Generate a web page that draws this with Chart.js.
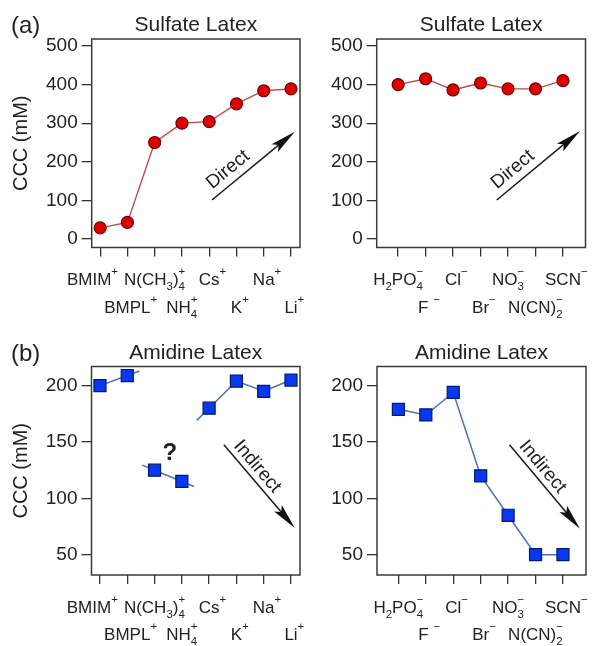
<!DOCTYPE html>
<html>
<head>
<meta charset="utf-8">
<script src="https://cdn.jsdelivr.net/npm/chart.js@4.4.1/dist/chart.umd.min.js"></script>
<style>
  body { margin: 0; background: #fff; }
  #wrap { position: relative; width: 598px; height: 646px; }
  #wrap canvas { position: absolute; left: 0; top: 0; }
</style>
</head>
<body>
<div id="wrap">
  <canvas id="c1" width="598" height="646"></canvas>
  <canvas id="c2" width="598" height="646"></canvas>
  <canvas id="c3" width="598" height="646"></canvas>
  <canvas id="c4" width="598" height="646"></canvas>
</div>
<script>
// categories (_x = subscript, ^x = superscript)
const cationLabels = ["BMIM^+", "BMPL^+", "N(CH_3)_4^+", "NH_4^+", "Cs^+", "K^+", "Na^+", "Li^+"];
const anionLabels = ["H_2PO_4^−", "F ^−", "Cl^−", "Br^−", "NO_3^−", "N(CN)_2^−", "SCN^−"];

// CCC values (mM)
const sulfateCation = [29, 43, 250, 300, 304, 350, 384, 389];
const sulfateAnion = [400, 415, 386, 404, 389, 389, 410];
const amidineCation = [200, 209, 125, 115, 180, 204, 195, 205];
const amidineAnion = [179, 174, 194, 120, 85, 50, 50];

// line is broken after these indices
const amidineCationBreaks = [1, 3];

const sulfateTicks = [0, 100, 200, 300, 400, 500];
const amidineTicks = [50, 100, 150, 200];

const FONT = '"Liberation Sans", Arial, Helvetica, sans-serif';
const INK = "#222";

// split "N(CH_3)_4^+" into normal / sub / sup pieces
function richParts(s) {
  const parts = [];
  for (let i = 0; i < s.length; i++) {
    const c = s[i];
    if (c === "_" || c === "^") {
      parts.push({ t: s[i + 1], k: c === "_" ? "sub" : "sup" });
      i++;
    } else {
      const last = parts[parts.length - 1];
      if (last && last.k === "n") last.t += c;
      else parts.push({ t: c, k: "n" });
    }
  }
  return parts;
}

function drawRich(ctx, s, cx, by) {
  const parts = richParts(s);
  const base = "17px " + FONT, small = "11.5px " + FONT;
  const items = [];
  let x = 0, prevW = 0, centerW = 0;
  parts.forEach((p, i) => {
    ctx.font = p.k === "n" ? base : small;
    const w = ctx.measureText(p.t).width;
    if (p.k === "sup" && i > 0 && parts[i - 1].k === "sub") {
      // stack over the subscript
      const start = items[items.length - 1].x;
      items.push({ p, x: start });
      x = start + Math.max(prevW, w);
      centerW = x;
    } else {
      items.push({ p, x });
      // a trailing charge sign is left out of the centering
      if (p.k !== "sup") centerW = x + w;
      x += w;
    }
    prevW = w;
  });
  const x0 = cx - centerW / 2;
  ctx.textAlign = "left";
  ctx.textBaseline = "alphabetic";
  ctx.fillStyle = INK;
  items.forEach(({ p, x }) => {
    ctx.font = p.k === "n" ? base : small;
    const dy = p.k === "sub" ? 5 : p.k === "sup" ? -10 : 0;
    ctx.fillText(p.t, x0 + x, by + dy);
  });
}

function drawArrow(ctx, x1, y1, x2, y2, text, gap) {
  const ang = Math.atan2(y2 - y1, x2 - x1);
  const len = Math.hypot(x2 - x1, y2 - y1);
  ctx.save();
  ctx.translate(x1, y1);
  ctx.rotate(ang);
  ctx.strokeStyle = "#1a1a1a";
  ctx.lineWidth = 1.5;
  ctx.beginPath();
  ctx.moveTo(0, 0);
  ctx.lineTo(len - 16, 0);
  ctx.stroke();
  ctx.fillStyle = "#111";
  ctx.beginPath();
  ctx.moveTo(len, 0);
  ctx.lineTo(len - 26, -5);
  ctx.lineTo(len - 21, 0);
  ctx.lineTo(len - 26, 5);
  ctx.closePath();
  ctx.fill();
  ctx.font = "19px " + FONT;
  ctx.textAlign = "left";
  ctx.textBaseline = "alphabetic";
  ctx.fillStyle = INK;
  ctx.fillText(text, 7, -gap);
  ctx.restore();
}

const panelPlugin = {
  id: "panel",
  beforeDatasetsDraw(chart, args, o) {
    if (!o.breaks) return;
    const pts = chart.getDatasetMeta(0).data;
    const ctx = chart.ctx;
    ctx.save();
    ctx.strokeStyle = o.lineColor;
    ctx.lineWidth = o.lineWidth;
    const stub = (a, b) => {
      if (!pts[a] || !pts[b]) return;
      const ex = pts[a].x + (pts[a].x - pts[b].x) * 0.45;
      const ey = pts[a].y + (pts[a].y - pts[b].y) * 0.45;
      ctx.beginPath();
      ctx.moveTo(pts[a].x, pts[a].y);
      ctx.lineTo(ex, ey);
      ctx.stroke();
    };
    o.breaks.forEach(b => { stub(b, b - 1); stub(b + 1, b + 2); });
    ctx.restore();
  },
  afterDraw(chart, args, o) {
    const { ctx, chartArea: a, scales: { x, y } } = chart;
    ctx.save();
    // frame
    ctx.strokeStyle = "#3a3a3a";
    ctx.lineWidth = 1.5;
    ctx.strokeRect(a.left, a.top, a.right - a.left, a.bottom - a.top);
    // title
    ctx.fillStyle = INK;
    ctx.font = "21px " + FONT;
    ctx.textAlign = "center";
    ctx.textBaseline = "alphabetic";
    ctx.fillText(o.title, (a.left + a.right) / 2, a.top - 8);
    // panel letter
    if (o.letter) {
      ctx.font = "24px " + FONT;
      ctx.textAlign = "left";
      ctx.fillText(o.letter, 11, a.top - 6);
    }
    // category labels in two staggered rows
    const shift = o.labelShift || {};
    o.labels.forEach((lab, i) => {
      const px = x.getPixelForValue(i) + (shift[i] || 0);
      const by = a.bottom + (i % 2 ? 65 : 37.5);
      drawRich(ctx, lab, px, by);
    });
    // trend arrow
    const ar = o.arrow;
    drawArrow(ctx, x.getPixelForValue(ar.from[0]), y.getPixelForValue(ar.from[1]),
      x.getPixelForValue(ar.to[0]), y.getPixelForValue(ar.to[1]), ar.text, ar.gap);
    if (o.note) {
      ctx.font = "bold 24px " + FONT;
      ctx.textAlign = "center";
      ctx.fillStyle = INK;
      ctx.fillText(o.note.text, x.getPixelForValue(o.note.x), y.getPixelForValue(o.note.y));
    }
    ctx.restore();
  }
};

function panel(id, p) {
  const W = 598, H = 646, XH = 70;
  const red = p.marker === "circle";
  const lineColor = red ? "#c04545" : "#4b72b8";
  const breaks = p.breaks || [];
  const tickGrid = { drawOnChartArea: false, drawTicks: true, color: "#333", lineWidth: 1.3 };
  return new Chart(document.getElementById(id), {
    type: "line",
    data: {
      datasets: [{
        data: p.values.map((v, i) => ({ x: i, y: v })),
        borderColor: lineColor,
        borderWidth: red ? 1.3 : 1.5,
        pointStyle: red ? "circle" : "rect",
        pointRadius: red ? 6 : 8.5,
        pointBackgroundColor: red ? "#e00000" : "#0838f0",
        pointBorderColor: red ? "#6a0000" : "#001a6e",
        pointBorderWidth: 1.2,
        tension: 0,
        clip: false,
        segment: {
          borderColor: c => (breaks.includes(c.p0DataIndex) ? "rgba(0,0,0,0)" : undefined)
        }
      }]
    },
    options: {
      responsive: false,
      animation: false,
      events: [],
      layout: {
        padding: { left: p.padLeft, top: p.box.top, right: W - p.box.right, bottom: H - p.box.bottom - XH }
      },
      plugins: {
        legend: { display: false },
        tooltip: { enabled: false },
        panel: {
          title: p.title, letter: p.letter, labels: p.labels, labelShift: p.labelShift,
          arrow: p.arrow, note: p.note, breaks: p.breaks, lineColor, lineWidth: 1.5
        }
      },
      scales: {
        x: {
          type: "linear",
          min: p.xMin, max: p.xMax,
          afterBuildTicks: s => { s.ticks = p.labels.map((_, i) => ({ value: i })); },
          afterFit: s => { s.height = XH; },
          ticks: { display: false },
          grid: Object.assign({ tickLength: 9 }, tickGrid),
          border: { display: false }
        },
        y: {
          type: "linear",
          min: p.yMin, max: p.yMax,
          afterBuildTicks: s => { s.ticks = p.ticks.map(v => ({ value: v })); },
          afterFit: s => { s.width = p.box.left - p.padLeft; },
          ticks: { font: { size: 19, family: FONT }, color: INK, padding: 4 },
          grid: Object.assign({ tickLength: 10 }, tickGrid),
          border: { display: false },
          title: {
            display: !!p.yTitle, text: p.yTitle || "", color: INK,
            font: { size: 20, family: FONT }, padding: { top: 9, bottom: 0 }
          }
        }
      }
    },
    plugins: [panelPlugin]
  });
}

panel("c1", {
  title: "Sulfate Latex", letter: "(a)", yTitle: "CCC (mM)",
  labels: cationLabels, values: sulfateCation, ticks: sulfateTicks, marker: "circle",
  labelShift: { 0: -11 },
  padLeft: 0, box: { left: 91.7, right: 300, top: 39, bottom: 247.5 },
  xMin: -0.31, xMax: 7.33, yMin: -22, yMax: 518,
  arrow: { from: [4.1, 101], to: [7.14, 278], text: "Direct", gap: 8 }
});

panel("c2", {
  title: "Sulfate Latex",
  labels: anionLabels, values: sulfateAnion, ticks: sulfateTicks, marker: "circle",
  padLeft: 300, box: { left: 376.7, right: 585.5, top: 39, bottom: 247.5 },
  xMin: -0.78, xMax: 6.82, yMin: -22, yMax: 518,
  arrow: { from: [3.59, 101], to: [6.62, 280], text: "Direct", gap: 8 }
});

panel("c3", {
  title: "Amidine Latex", letter: "(b)", yTitle: "CCC (mM)",
  labels: cationLabels, values: amidineCation, ticks: amidineTicks, marker: "rect",
  labelShift: { 0: -11 },
  breaks: amidineCationBreaks,
  padLeft: 0, box: { left: 91.5, right: 300, top: 366.5, bottom: 575 },
  xMin: -0.31, xMax: 7.33, yMin: 32, yMax: 217,
  arrow: { from: [4.54, 147.5], to: [7.14, 73.7], text: "Indirect", gap: 6 },
  note: { text: "?", x: 2.56, y: 134 }
});

panel("c4", {
  title: "Amidine Latex",
  labels: anionLabels, values: amidineAnion, ticks: amidineTicks, marker: "rect",
  padLeft: 300, box: { left: 377, right: 586, top: 366.5, bottom: 575 },
  xMin: -0.78, xMax: 6.84, yMin: 32, yMax: 217,
  arrow: { from: [4.05, 147.5], to: [6.62, 73], text: "Indirect", gap: 6 }
});
</script>
</body>
</html>
